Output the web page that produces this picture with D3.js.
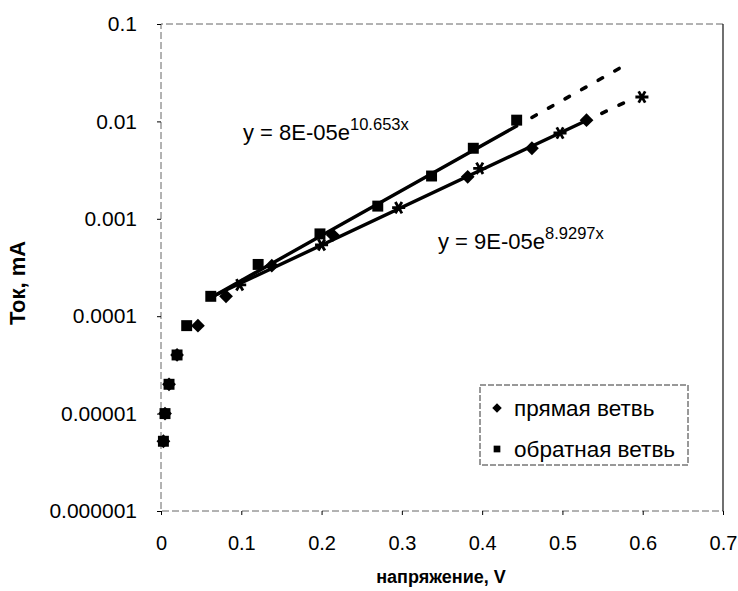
<!DOCTYPE html>
<html>
<head>
<meta charset="utf-8">
<script src="https://cdn.jsdelivr.net/npm/d3@7"></script>
<style>
  body { margin: 0; background: #fff; }
  text { font-family: "Liberation Sans", Arial, sans-serif; fill: #000; }
</style>
</head>
<body>
<div id="chart"></div>
<script>
// forward branch (diamonds)
const forwardX = [0.003, 0.005, 0.01, 0.02, 0.046, 0.081, 0.138, 0.214, 0.382, 0.462, 0.530];
const forwardY = [5.2e-6, 1e-5, 2e-5, 4e-5, 8e-5, 1.6e-4, 3.3e-4, 6.8e-4, 2.7e-3, 5.3e-3, 0.0103];
// reverse branch (squares)
const reverseX = [0.003, 0.005, 0.01, 0.02, 0.032, 0.062, 0.121, 0.198, 0.270, 0.337, 0.389, 0.443];
const reverseY = [5.2e-6, 1e-5, 2e-5, 4e-5, 8e-5, 1.6e-4, 3.4e-4, 7.0e-4, 1.35e-3, 2.75e-3, 5.3e-3, 0.0103];
// third set (stars, not in legend)
const starX = [0.098, 0.200, 0.296, 0.397, 0.497, 0.599];
const starY = [2.1e-4, 5.4e-4, 1.3e-3, 3.3e-3, 7.6e-3, 0.0178];

// exponential fits y = a*e^(b*x): [a, b], solid range, dashed range
const fitUpper = [8e-5, 10.653];
const fitUpperSolid = [0.062, 0.443];
const fitUpperDash = [0.462, 0.585];
const fitLower = [9e-5, 8.9297];
const fitLowerSolid = [0.062, 0.530];
const fitLowerDash = [0.549, 0.576];

const xTicks = [0, 0.1, 0.2, 0.3, 0.4, 0.5, 0.6, 0.7];
const yTicks = [0.1, 0.01, 0.001, 0.0001, 0.00001, 0.000001];
const yTickLabels = ["0.1", "0.01", "0.001", "0.0001", "0.00001", "0.000001"];

const width = 738, height = 591;
const margin = { top: 24, right: 15, bottom: 80, left: 161 };

const svg = d3.select("#chart").append("svg")
    .attr("width", width)
    .attr("height", height);

const x = d3.scaleLinear().domain([0, 0.7]).range([margin.left, width - margin.right]);
const y = d3.scaleLog().domain([1e-6, 0.1]).range([height - margin.bottom, margin.top]);

// frame: faint dashed on left/top/bottom, solid on right
const x0 = x(0), x1 = x(0.7), yTop = y(0.1), yBot = y(1e-6);
const frame = svg.append("g").attr("fill", "none");
frame.append("path")
    .attr("d", `M${x1},${yTop}H${x0}V${yBot}H${x1}`)
    .attr("stroke", "#666").attr("stroke-width", 1).attr("stroke-dasharray", "7,3");
frame.append("line")
    .attr("x1", x1).attr("x2", x1).attr("y1", yTop).attr("y2", yBot)
    .attr("stroke", "#111").attr("stroke-width", 1.2);

// axes
const xAxis = svg.append("g")
    .attr("transform", `translate(0,${yBot})`)
    .call(d3.axisBottom(x).tickValues(xTicks).tickFormat(d3.format("")).tickSize(4).tickPadding(21));
xAxis.select(".domain").remove();
xAxis.selectAll("text").style("font-size", "20px");

const yAxis = svg.append("g")
    .attr("transform", `translate(${x0},0)`)
    .call(d3.axisLeft(y).tickValues(yTicks).tickFormat((d, i) => yTickLabels[i]).tickSize(4).tickPadding(20));
yAxis.select(".domain").remove();
yAxis.selectAll("text").style("font-size", "21px");

// axis titles
svg.append("text")
    .attr("x", 441).attr("y", 583)
    .attr("text-anchor", "middle")
    .style("font-size", "18px").style("font-weight", "bold")
    .text("напряжение, V");

svg.append("text")
    .attr("transform", "translate(25,283) rotate(-90)")
    .attr("text-anchor", "middle")
    .style("font-size", "22px").style("font-weight", "bold")
    .text("Ток, mA");

// trend lines
const fitVal = (f, v) => f[0] * Math.exp(f[1] * v);
function drawFit(f, range, dashed) {
    svg.append("line")
        .attr("x1", x(range[0])).attr("y1", y(fitVal(f, range[0])))
        .attr("x2", x(range[1])).attr("y2", y(fitVal(f, range[1])))
        .attr("stroke", "#000")
        .attr("stroke-width", dashed ? 3.6 : 3.4)
        .attr("stroke-linecap", "round")
        .attr("stroke-dasharray", dashed ? "5,14" : null);
}
drawFit(fitUpper, fitUpperSolid, false);
drawFit(fitUpper, fitUpperDash, true);
drawFit(fitLower, fitLowerSolid, false);
drawFit(fitLower, fitLowerDash, true);

// markers
const square = d3.symbol().type(d3.symbolSquare).size(120);
const diamond = d3.symbol().type(d3.symbolSquare).size(95);
const star = d3.symbol().type(d3.symbolAsterisk).size(120);

svg.append("g").selectAll("path")
    .data(reverseX.map((v, i) => [v, reverseY[i]]))
    .join("path")
    .attr("d", square)
    .attr("transform", d => `translate(${x(d[0])},${y(d[1])})`)
    .attr("fill", "#000");

svg.append("g").selectAll("path")
    .data(forwardX.map((v, i) => [v, forwardY[i]]))
    .join("path")
    .attr("d", diamond)
    .attr("transform", d => `translate(${x(d[0])},${y(d[1])}) rotate(45)`)
    .attr("fill", "#000");

svg.append("g").selectAll("path")
    .data(starX.map((v, i) => [v, starY[i]]))
    .join("path")
    .attr("d", star)
    .attr("transform", d => `translate(${x(d[0])},${y(d[1])}) rotate(90)`)
    .attr("fill", "none")
    .attr("stroke", "#000")
    .attr("stroke-width", 2.8);

// equations
function equation(px, py, base, exp) {
    const t = svg.append("text").attr("x", px).attr("y", py).style("font-size", "22px");
    t.append("tspan").text(base);
    t.append("tspan").attr("dy", -10).style("font-size", "16.5px").text(exp);
}
equation(243, 140, "y = 8E-05e", "10.653x");
equation(438, 249, "y = 9E-05e", "8.9297x");

// legend
const legend = svg.append("g");
legend.append("rect")
    .attr("x", 480).attr("y", 385).attr("width", 208).attr("height", 80)
    .attr("fill", "#fff").attr("stroke", "#333").attr("stroke-dasharray", "6,2");
legend.append("path")
    .attr("d", d3.symbol().type(d3.symbolSquare).size(45))
    .attr("transform", "translate(497,408) rotate(45)");
legend.append("path")
    .attr("d", d3.symbol().type(d3.symbolSquare).size(45))
    .attr("transform", "translate(497,449)");
legend.append("text").attr("x", 514).attr("y", 416).style("font-size", "22.5px").text("прямая ветвь");
legend.append("text").attr("x", 514).attr("y", 457).style("font-size", "22.5px").text("обратная ветвь");
</script>
</body>
</html>
